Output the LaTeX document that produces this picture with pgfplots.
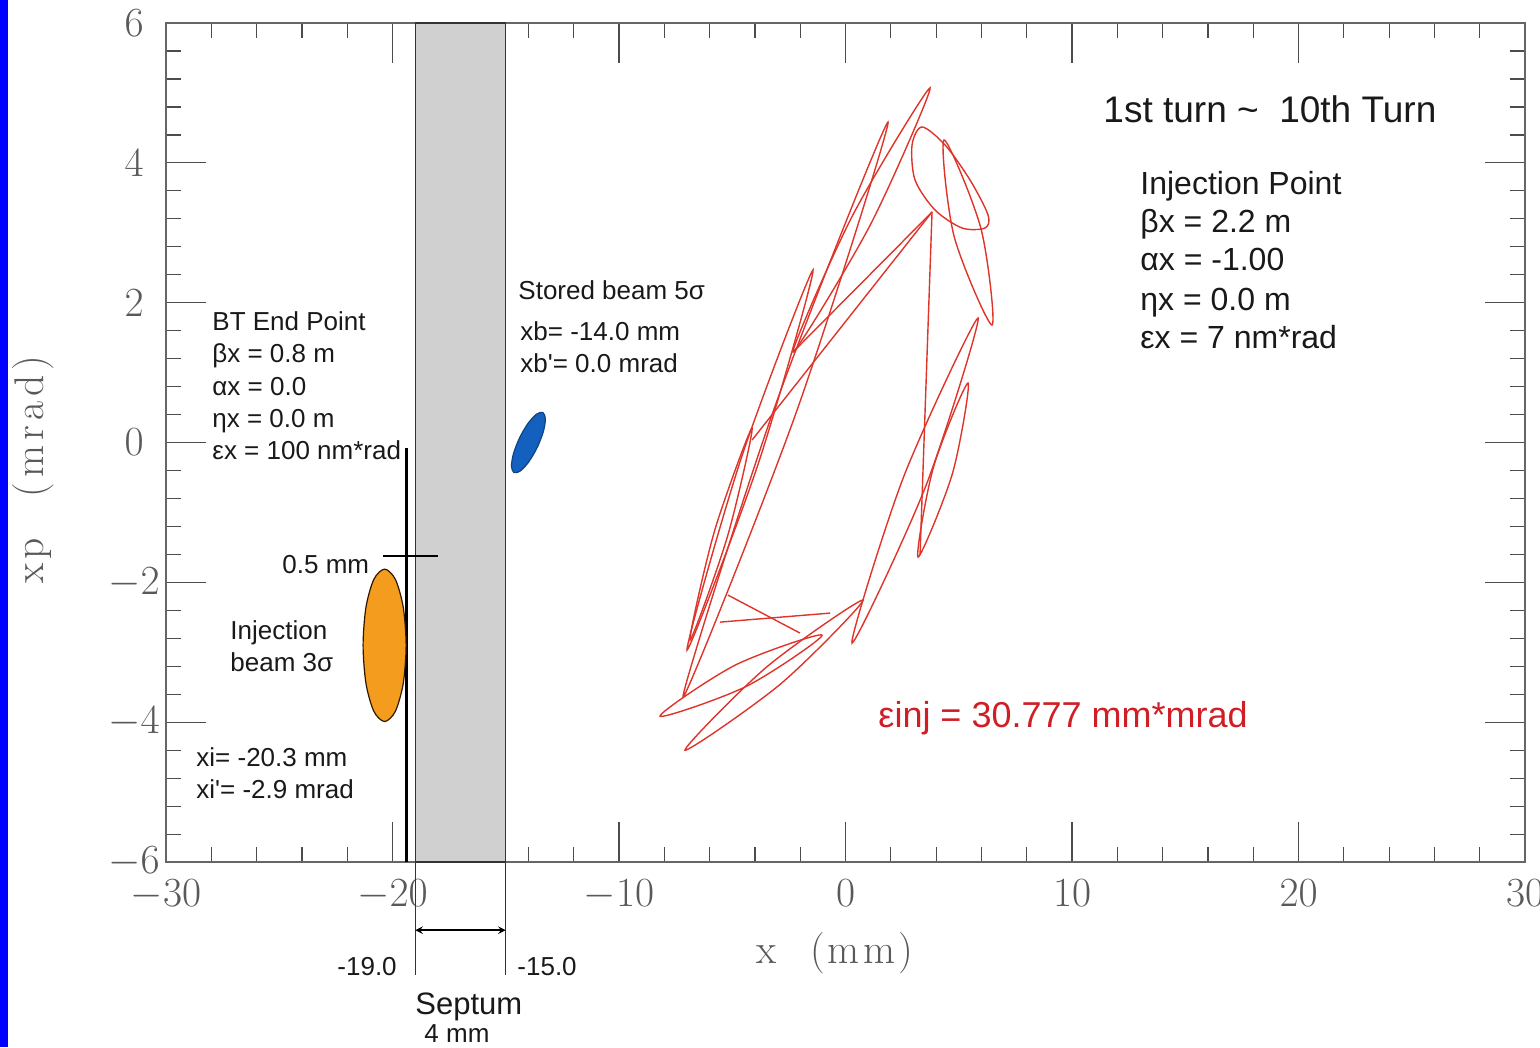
\documentclass[border=0pt]{standalone}
\usepackage{pgfplots}
\pgfplotsset{compat=1.18}
\usepackage{fontspec}
\newfontfamily\arial{Liberation Sans}
\definecolor{redc}{RGB}{222,52,42}
\definecolor{redt}{RGB}{208,30,38}
\definecolor{orng}{RGB}{243,156,30}
\definecolor{blu}{RGB}{20,96,190}
\definecolor{septumgray}{RGB}{208,208,208}
\tikzset{ann/.style={anchor=base west, inner sep=0pt, text=black!90}}
\newcommand\fs[1]{\arial\fontsize{#1}{#1}\selectfont}
\begin{document}
\begin{tikzpicture}
\begin{axis}[
  scale only axis, width=679.5pt, height=419.5pt,
  xmin=-30, xmax=30, ymin=-6, ymax=6,
  xtick={-30,-20,...,30}, ytick={-6,-4,...,6},
  minor x tick num=4, minor y tick num=4,
  major tick length=20pt, minor tick length=7.5pt,
  tick style={black!70, line width=0.6pt},
  axis line style={black!60, line width=0.8pt},
  ticklabel style={font=\fontsize{20.74}{20.74}\selectfont, text=black!65},
  xticklabel style={yshift=-5.5pt},
  yticklabel style={anchor=center, xshift=-16pt},
  clip=false,
]
% blue strip at left edge
\fill[blue] (axis cs:-37.33,6.33) rectangle (axis cs:-36.98,-8.65);
\coordinate (bbSW) at (axis cs:-37.33,-8.65);
\coordinate (bbNE) at (axis cs:30.66,6.33);

% septum
\addplot[fill=septumgray, draw=black!80, line width=0.6pt] coordinates {(-19,-6) (-19,6) (-15,6) (-15,-6) (-19,-6)};
\addplot[black!80, line width=0.6pt] coordinates {(-19,-6) (-19,-7.62)};
\addplot[black!80, line width=0.6pt] coordinates {(-15,-6) (-15,-7.62)};
\addplot[black, line width=0.7pt, <->, >=stealth] coordinates {(-19,-6.974) (-15,-6.974)};

% injection line and 0.5 mm marker
\addplot[black, line width=1.3pt] coordinates {(-19.38,-0.08) (-19.38,-6)};
\addplot[black, line width=0.8pt] coordinates {(-20.42,-1.624) (-17.99,-1.624)};

% injection beam (orange)
\addplot[fill=orng, draw=black!70!orange!60!black, line width=0.6pt, smooth cycle] coordinates {
(-19.40,-2.90) (-19.527,-2.355) (-19.875,-1.956) (-20.35,-1.81) (-20.825,-1.956) (-21.173,-2.355)
(-21.30,-2.90) (-21.173,-3.445) (-20.825,-3.844) (-20.35,-3.99) (-19.875,-3.844) (-19.527,-3.445)};

% stored beam (blue)
\addplot[fill=blu, draw=blu!70!black, line width=0.6pt, smooth cycle] coordinates {
(-13.360,0.430) (-13.251,0.337) (-13.343,0.155) (-13.611,-0.069) (-13.983,-0.275) (-14.359,-0.407)
(-14.640,-0.430) (-14.749,-0.337) (-14.657,-0.155) (-14.389,0.069) (-14.017,0.275) (-13.641,0.407)};

% injected beam turns 1-10 (red)
\pgfplotsset{turn/.style={redc, line width=0.7pt, smooth cycle}}
\addplot[turn] coordinates {(3.731,5.072) (1.099,3.117) (-2.318,1.295) (0.313,3.249)};
\addplot[turn] coordinates {(1.876,4.585) (-2.190,0.419) (-7.174,-3.641) (-3.108,0.525)};
\addplot[turn] coordinates {(-1.435,2.468) (-3.841,-0.290) (-6.998,-2.969) (-4.592,-0.210)};
\addplot[turn] coordinates {(-4.128,0.207) (-5.201,-1.330) (-6.865,-2.825) (-5.792,-1.273)};
\addplot[turn] coordinates {(-8.190,-3.913) (-4.375,-3.486) (-1.038,-2.754) (-4.852,-3.180)};
\addplot[turn] coordinates {(-7.086,-4.399) (-2.843,-3.446) (0.773,-2.253) (-3.470,-3.206)};
\addplot[turn] coordinates {(0.287,-2.868) (3.563,-0.605) (5.850,1.781) (2.574,-0.482)};
\addplot[turn] coordinates {(3.201,-1.638) (4.728,-0.433) (5.408,0.851) (3.881,-0.353)};
\addplot[turn] coordinates {(3.377,4.514) (4.393,4.256) (5.497,3.755) (6.291,3.255) (6.159,3.069) (5.143,3.069) (3.951,3.326) (3.068,3.755) (2.936,4.256)};
\addplot[turn] coordinates {(4.349,4.328) (5.982,3.056) (6.468,1.681) (4.790,2.953)};
% connecting lines between turns
\addplot[redc, line width=0.7pt] coordinates {(3.819,3.298) (-2.318,1.295)};
\addplot[redc, line width=0.7pt] coordinates {(3.819,3.298) (-4.128,0.036)};
\addplot[redc, line width=0.7pt] coordinates {(3.819,3.298) (3.289,-1.609)};
\addplot[redc, line width=0.7pt] coordinates {(-5.188,-2.182) (-2.009,-2.725)};
\addplot[redc, line width=0.7pt] coordinates {(-5.541,-2.568) (-0.684,-2.439)};

% annotations
\node[ann, font=\fs{13}] at (axis cs:-27.969,1.609) {BT End Point};
\node[ann, font=\fs{13}] at (axis cs:-27.969,1.152) {βx = 0.8 m};
\node[ann, font=\fs{13}] at (axis cs:-27.969,0.680) {αx = 0.0};
\node[ann, font=\fs{13}] at (axis cs:-27.969,0.222) {ηx = 0.0 m};
\node[ann, font=\fs{13}] at (axis cs:-27.969,-0.236) {εx = 100 nm*rad};

\node[ann, font=\fs{13}] at (axis cs:-14.459,2.053) {Stored beam 5σ};
\node[ann, font=\fs{13}] at (axis cs:-14.371,1.466) {xb= -14.0 mm};
\node[ann, font=\fs{13}] at (axis cs:-14.371,1.009) {xb'= 0.0 mrad};

\node[ann, font=\fs{13}] at (axis cs:-24.879,-1.867) {0.5 mm};
\node[ann, font=\fs{13}] at (axis cs:-27.174,-2.811) {Injection};
\node[ann, font=\fs{13}] at (axis cs:-27.174,-3.269) {beam 3σ};
\node[ann, font=\fs{13}] at (axis cs:-28.675,-4.628) {xi= -20.3 mm};
\node[ann, font=\fs{13}] at (axis cs:-28.675,-5.086) {xi'= -2.9 mrad};

\node[ann, font=\fs{18.5}] at (axis cs:11.369,4.571) {1st turn \textasciitilde\ \ 10th Turn};
\node[ann, font=\fs{16}] at (axis cs:13.002,3.555) {Injection Point};
\node[ann, font=\fs{16}] at (axis cs:13.002,3.011) {βx = 2.2 m};
\node[ann, font=\fs{16}] at (axis cs:13.002,2.454) {αx = -1.00};
\node[ann, font=\fs{16}] at (axis cs:13.002,1.896) {ηx = 0.0 m};
\node[ann, font=\fs{16}] at (axis cs:13.002,1.352) {εx = 7 nm*rad};

\node[ann, font=\fs{18}, text=redt] at (axis cs:1.435,-4.070) {εinj = 30.777 mm*mrad};

\node[ann, font=\fs{13}] at (axis cs:-22.450,-7.618) {-19.0};
\node[ann, font=\fs{13}] at (axis cs:-14.503,-7.618) {-15.0};
\node[ann, font=\fs{15.5}] at (axis cs:-19.007,-8.176) {Septum};
\node[ann, font=\fs{13}] at (axis cs:-18.609,-8.577) {4 mm};

% axis labels
\node[font=\fontsize{20.74}{20.74}\selectfont, text=black!65] at (axis cs:-0.46,-7.30)
  {x\hspace{0.8em}(\kern1.5pt m\kern2pt m\kern1.5pt)};
\node[font=\fontsize{20.74}{20.74}\selectfont, text=black!65, rotate=90] at (axis cs:-35.87,-0.39)
  {x\kern2pt p\hspace{1em}(\kern2.5pt m\kern2.5pt r\kern2.5pt a\kern2.5pt d\kern2.5pt)};
\end{axis}
\pgfresetboundingbox
\path (bbSW) rectangle (bbNE);
\end{tikzpicture}
\end{document}
